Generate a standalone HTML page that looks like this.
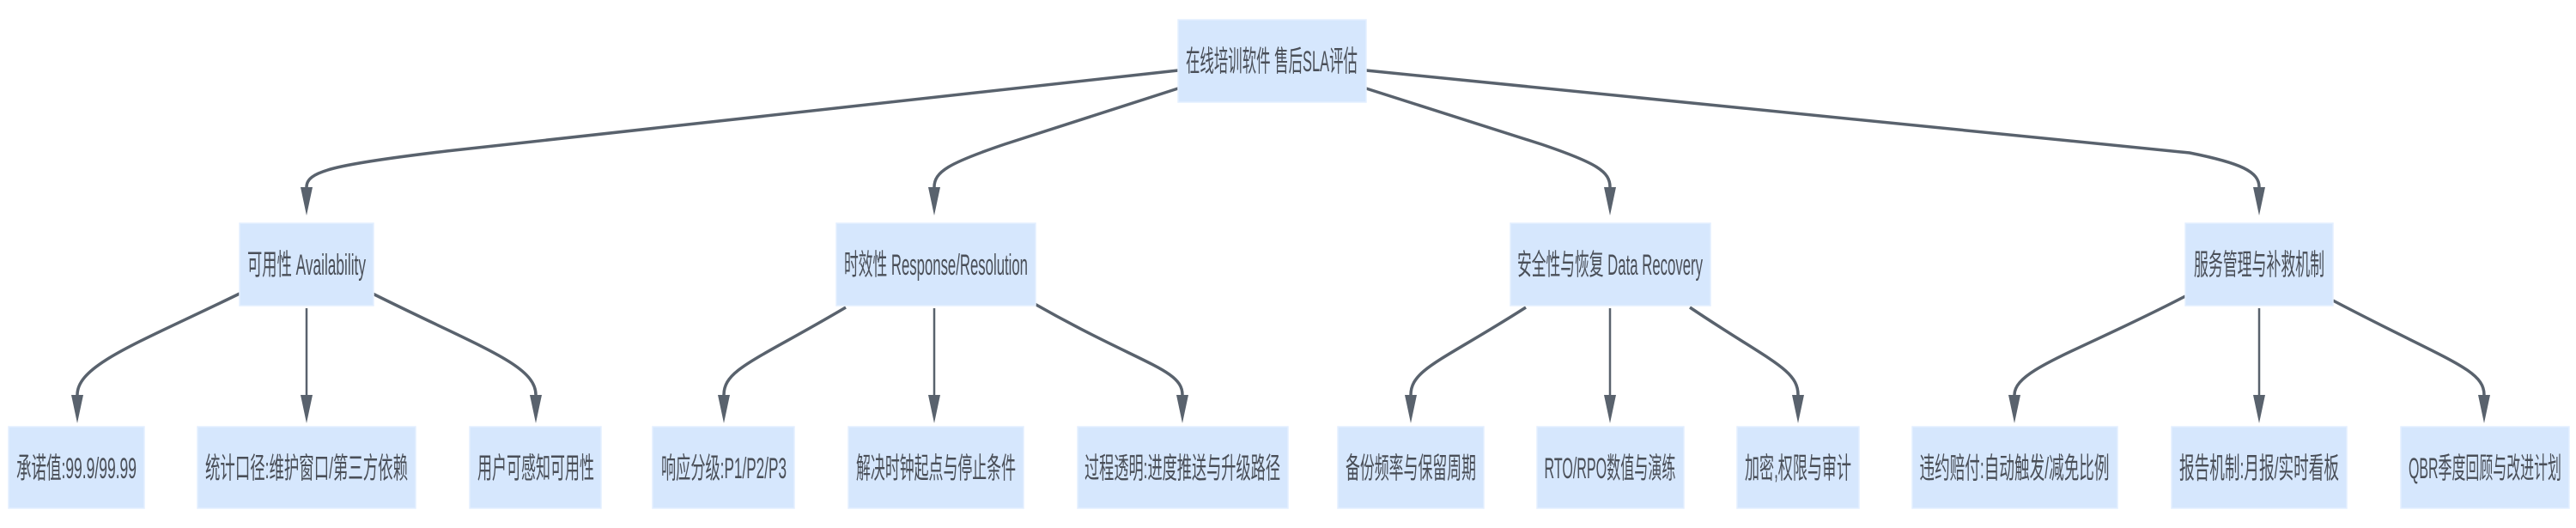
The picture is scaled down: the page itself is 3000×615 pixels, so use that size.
<!DOCTYPE html>
<html><head><meta charset="utf-8">
<style>
html,body{margin:0;padding:0;background:#fff;}
svg{display:block;}
text{font-family:"Liberation Sans","Noto Sans CJK SC",sans-serif;font-size:34px;fill:#4a4f58;}
</style></head><body>
<svg width="3000" height="615" viewBox="0 0 3000 615" xmlns="http://www.w3.org/2000/svg">
<g fill="none" stroke="#59626d" stroke-width="3.5">
<path d="M1372,82 L520,176 C385,192 357,200 357,218"/>
<path d="M1372,103 L1170,168 C1105,190 1088,200 1088,218"/>
<path d="M1591,103 L1795,168 C1860,190 1875,200 1875,218"/>
<path d="M1591,82 L2550,178 C2610,190 2631,200 2631,218"/>
<path d="M279,342 C160,400 90,425 90,460"/>
<path d="M357,359 L357,460" stroke-width="2.5"/>
<path d="M434,342 C560,405 624,425 624,460"/>
<path d="M985,358 C880,420 843,430 843,460"/>
<path d="M1088,359 L1088,460" stroke-width="2.5"/>
<path d="M1205,354 C1330,425 1377,430 1377,460"/>
<path d="M1777,358 C1680,420 1643,430 1643,460"/>
<path d="M1875,359 L1875,460" stroke-width="2.5"/>
<path d="M1968,358 C2060,420 2094,430 2094,460"/>
<path d="M2545,345 C2420,410 2346,430 2346,460"/>
<path d="M2631,359 L2631,460" stroke-width="2.5"/>
<path d="M2717,350 C2850,420 2893,430 2893,460"/>
</g>
<g fill="#59626d">
<polygon points="350,218 364,218 357,251"/>
<polygon points="1081,218 1095,218 1088,251"/>
<polygon points="1868,218 1882,218 1875,251"/>
<polygon points="2624,218 2638,218 2631,251"/>
<polygon points="83,460 97,460 90,493"/>
<polygon points="350,460 364,460 357,493"/>
<polygon points="617,460 631,460 624,493"/>
<polygon points="836,460 850,460 843,493"/>
<polygon points="1081,460 1095,460 1088,493"/>
<polygon points="1370,460 1384,460 1377,493"/>
<polygon points="1636,460 1650,460 1643,493"/>
<polygon points="1868,460 1882,460 1875,493"/>
<polygon points="2087,460 2101,460 2094,493"/>
<polygon points="2339,460 2353,460 2346,493"/>
<polygon points="2624,460 2638,460 2631,493"/>
<polygon points="2886,460 2900,460 2893,493"/>
</g>
<g fill="#d6e7fd" stroke="#e4efff" stroke-width="1.5">
<rect x="1372" y="23" width="219" height="96"/>
<rect x="279" y="260" width="156" height="96"/>
<rect x="974" y="260" width="232" height="96"/>
<rect x="1759" y="260" width="233" height="96"/>
<rect x="2545" y="260" width="172" height="96"/>
<rect x="10" y="497" width="158" height="95"/>
<rect x="230" y="497" width="254" height="95"/>
<rect x="547" y="497" width="153" height="95"/>
<rect x="760" y="497" width="165" height="95"/>
<rect x="988" y="497" width="204" height="95"/>
<rect x="1255" y="497" width="245" height="95"/>
<rect x="1558" y="497" width="170" height="95"/>
<rect x="1790" y="497" width="171" height="95"/>
<rect x="2023" y="497" width="142" height="95"/>
<rect x="2227" y="497" width="239" height="95"/>
<rect x="2529" y="497" width="204" height="95"/>
<rect x="2796" y="497" width="196" height="95"/>
</g>
<g text-anchor="middle" lengthAdjust="spacingAndGlyphs">
<text x="1481" y="83" textLength="200" lengthAdjust="spacingAndGlyphs">在线培训软件 售后SLA评估</text>
<text x="357" y="320" textLength="138" lengthAdjust="spacingAndGlyphs">可用性 Availability</text>
<text x="1090" y="320" textLength="214" lengthAdjust="spacingAndGlyphs">时效性 Response/Resolution</text>
<text x="1875" y="320" textLength="216" lengthAdjust="spacingAndGlyphs">安全性与恢复 Data Recovery</text>
<text x="2631" y="320" textLength="152" lengthAdjust="spacingAndGlyphs">服务管理与补救机制</text>
<text x="89" y="557" textLength="140" lengthAdjust="spacingAndGlyphs">承诺值:99.9/99.99</text>
<text x="357" y="557" textLength="236" lengthAdjust="spacingAndGlyphs">统计口径:维护窗口/第三方依赖</text>
<text x="624" y="557" textLength="136" lengthAdjust="spacingAndGlyphs">用户可感知可用性</text>
<text x="843" y="557" textLength="146" lengthAdjust="spacingAndGlyphs">响应分级:P1/P2/P3</text>
<text x="1090" y="557" textLength="186" lengthAdjust="spacingAndGlyphs">解决时钟起点与停止条件</text>
<text x="1377" y="557" textLength="228" lengthAdjust="spacingAndGlyphs">过程透明:进度推送与升级路径</text>
<text x="1643" y="557" textLength="152" lengthAdjust="spacingAndGlyphs">备份频率与保留周期</text>
<text x="1875" y="557" textLength="153" lengthAdjust="spacingAndGlyphs">RTO/RPO数值与演练</text>
<text x="2094" y="557" textLength="124" lengthAdjust="spacingAndGlyphs">加密,权限与审计</text>
<text x="2346" y="557" textLength="221" lengthAdjust="spacingAndGlyphs">违约赔付:自动触发/减免比例</text>
<text x="2631" y="557" textLength="186" lengthAdjust="spacingAndGlyphs">报告机制:月报/实时看板</text>
<text x="2894" y="557" textLength="178" lengthAdjust="spacingAndGlyphs">QBR季度回顾与改进计划</text>
</g>
</svg>
</body></html>
